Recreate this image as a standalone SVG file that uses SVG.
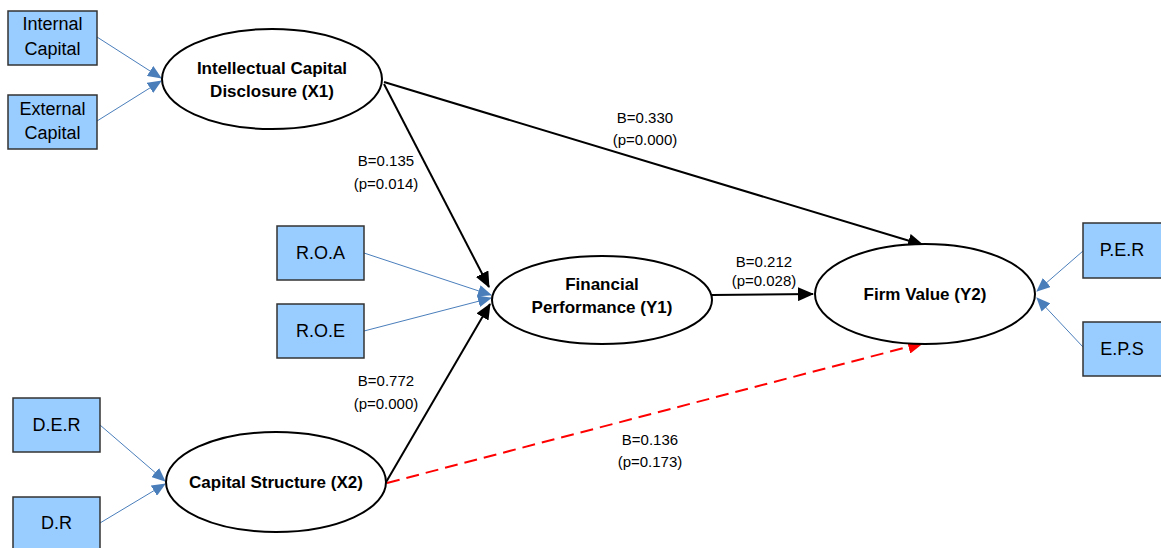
<svg xmlns="http://www.w3.org/2000/svg" width="1161" height="548" viewBox="0 0 1161 548">
<defs>
<style>
.box{fill:#99CCFF;stroke:#333;stroke-width:1.5}
.ell{fill:#fff;stroke:#000;stroke-width:2}
.bt{font-family:"Liberation Sans",Arial,sans-serif;font-size:18px;fill:#000;text-anchor:middle}
.et{font-family:"Liberation Sans",Arial,sans-serif;font-size:17px;font-weight:bold;fill:#000;text-anchor:middle}
.lt{font-family:"Liberation Sans",Arial,sans-serif;font-size:15px;fill:#000;text-anchor:middle}
.blue{stroke:#4A7EBB;stroke-width:1;fill:none;marker-end:url(#ab)}
.blk{stroke:#000;stroke-width:2;fill:none;marker-end:url(#ak)}
.red{stroke:#FF0000;stroke-width:2;fill:none;stroke-dasharray:13 7;marker-end:url(#ar)}
</style>
<marker id="ab" markerUnits="userSpaceOnUse" markerWidth="14" markerHeight="12" refX="13" refY="6" orient="auto"><path d="M0,0 L14,6 L0,12 Z" fill="#4A7EBB"/></marker>
<marker id="ak" markerUnits="userSpaceOnUse" markerWidth="16" markerHeight="14" refX="15" refY="7" orient="auto"><path d="M0,0 L16,7 L0,14 Z" fill="#000"/></marker>
<marker id="ar" markerUnits="userSpaceOnUse" markerWidth="16" markerHeight="14" refX="15" refY="7" orient="auto"><path d="M0,0 L16,7 L0,14 Z" fill="#FF0000"/></marker>
</defs>
<rect width="1161" height="548" fill="#fff"/>
<g id="connectors">
<line class="blue" x1="97" y1="37" x2="161" y2="78"/>
<line class="blue" x1="97" y1="121" x2="161" y2="81"/>
<line class="blue" x1="100" y1="425" x2="165" y2="481"/>
<line class="blue" x1="100" y1="523" x2="165" y2="484"/>
<line class="blue" x1="364" y1="253" x2="491" y2="295"/>
<line class="blue" x1="364" y1="331" x2="491" y2="298"/>
<line class="blue" x1="1083" y1="251" x2="1037" y2="291"/>
<line class="blue" x1="1083" y1="347" x2="1037" y2="298"/>
<line class="blk" x1="384" y1="84" x2="489" y2="287"/>
<line class="blk" x1="384" y1="82" x2="923" y2="245"/>
<line class="blk" x1="712" y1="295" x2="813" y2="294"/>
<line class="blk" x1="385" y1="484" x2="490" y2="304"/>
<line class="red" x1="387" y1="483" x2="923" y2="343"/>
<text class="lt" x="386" y="166">B=0.135</text>
<text class="lt" x="386" y="189">(p=0.014)</text>
<text class="lt" x="645" y="123">B=0.330</text>
<text class="lt" x="645" y="145">(p=0.000)</text>
<text class="lt" x="764" y="267">B=0.212</text>
<text class="lt" x="764" y="286">(p=0.028)</text>
<text class="lt" x="386" y="386">B=0.772</text>
<text class="lt" x="386" y="409">(p=0.000)</text>
<text class="lt" x="650" y="445">B=0.136</text>
<text class="lt" x="650" y="467">(p=0.173)</text>
</g>
<g id="internal-capital"><rect class="box" x="8" y="11" width="89" height="54"/><text class="bt" x="52.5" y="30">Internal</text><text class="bt" x="52.5" y="55">Capital</text></g>
<g id="external-capital"><rect class="box" x="8" y="95" width="89" height="54"/><text class="bt" x="52.5" y="115">External</text><text class="bt" x="52.5" y="139">Capital</text></g>
<g id="roa"><rect class="box" x="277" y="226" width="87" height="54"/><text class="bt" x="320.5" y="259">R.O.A</text></g>
<g id="roe"><rect class="box" x="277" y="304" width="87" height="54"/><text class="bt" x="320.5" y="337">R.O.E</text></g>
<g id="der"><rect class="box" x="13" y="398" width="87" height="54"/><text class="bt" x="56.5" y="431">D.E.R</text></g>
<g id="dr"><rect class="box" x="13" y="497" width="87" height="54"/><text class="bt" x="56.5" y="529">D.R</text></g>
<g id="per"><rect class="box" x="1083" y="223" width="82" height="55"/><text class="bt" x="1122" y="256">P.E.R</text></g>
<g id="eps"><rect class="box" x="1083" y="322" width="82" height="54"/><text class="bt" x="1122" y="355">E.P.S</text></g>
<g id="x1"><ellipse class="ell" cx="272" cy="79" rx="110" ry="50"/><text class="et" x="272" y="74">Intellectual Capital</text><text class="et" x="272" y="97">Disclosure (X1)</text></g>
<g id="y1"><ellipse class="ell" cx="602" cy="300" rx="110" ry="44"/><text class="et" x="602" y="290">Financial</text><text class="et" x="602" y="313">Performance (Y1)</text></g>
<g id="y2"><ellipse class="ell" cx="925" cy="294" rx="110" ry="50"/><text class="et" x="925" y="300">Firm Value (Y2)</text></g>
<g id="x2"><ellipse class="ell" cx="276" cy="482" rx="110" ry="50"/><text class="et" x="276" y="488">Capital Structure (X2)</text></g>
</svg>
